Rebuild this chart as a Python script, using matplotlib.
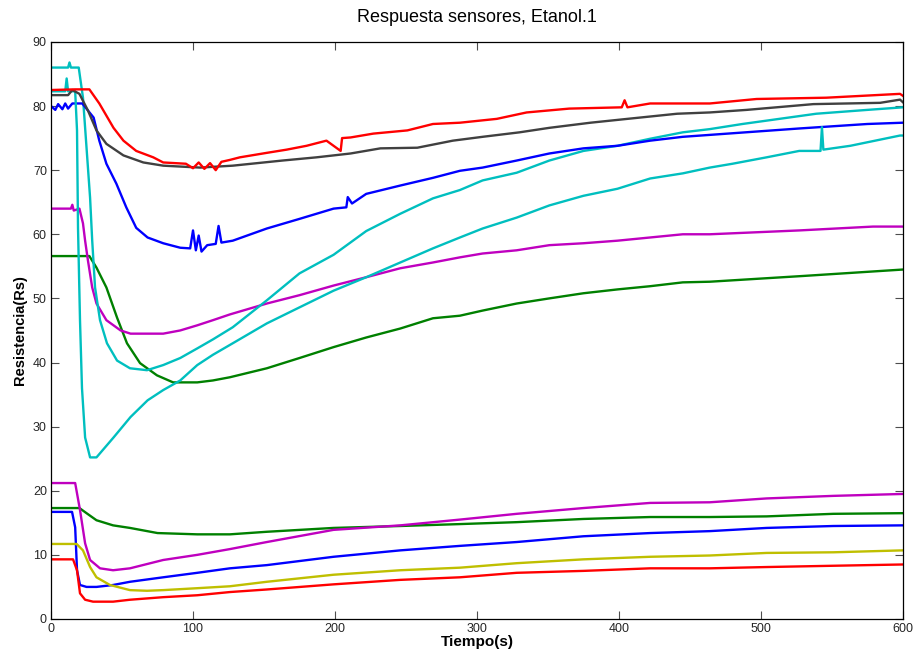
import matplotlib.pyplot as plt

# ---- data (time in s, resistance in Rs) ----
red_hi_t = [0, 17, 27, 34, 44, 51, 60, 72, 79, 95, 100, 104, 108, 112, 116, 120, 126, 133, 152, 166, 180, 194, 204, 205, 211, 227, 251, 269, 288, 314, 335, 365, 402, 404, 406, 422, 464, 497, 546, 598, 600]
red_hi_v = [82.5, 82.6, 82.6, 80.4, 76.6, 74.6, 73.0, 72.0, 71.2, 71.0, 70.3, 71.2, 70.2, 71.1, 70.0, 71.3, 71.6, 72.0, 72.7, 73.2, 73.8, 74.6, 73.0, 75.0, 75.1, 75.7, 76.2, 77.2, 77.4, 78.0, 79.0, 79.6, 79.8, 80.9, 79.8, 80.4, 80.4, 81.1, 81.3, 81.9, 81.6]

gray_t = [0, 12, 15, 20, 26, 32, 39, 51, 65, 79, 105, 128, 163, 187, 211, 232, 258, 283, 304, 330, 351, 380, 406, 441, 464, 490, 537, 584, 598, 600]
gray_v = [81.7, 81.7, 82.5, 81.9, 79.3, 76.2, 74.1, 72.3, 71.2, 70.7, 70.4, 70.7, 71.5, 72.0, 72.6, 73.4, 73.5, 74.6, 75.2, 75.9, 76.6, 77.4, 78.0, 78.8, 79.0, 79.4, 80.3, 80.5, 81.0, 80.6]

blue_hi_t = [0, 3, 5, 8, 10, 12, 15, 22, 30, 34, 39, 46, 53, 60, 68, 79, 91, 98, 100, 102, 104, 106, 110, 116, 118, 120, 128, 152, 175, 199, 208, 209, 212, 222, 246, 269, 288, 304, 328, 351, 375, 399, 422, 445, 464, 527, 575, 600]
blue_hi_v = [80.0, 79.4, 80.3, 79.5, 80.4, 79.6, 80.4, 80.4, 78.2, 74.6, 71.0, 67.9, 64.2, 61.0, 59.5, 58.6, 57.9, 57.8, 60.6, 57.5, 59.8, 57.3, 58.3, 58.5, 61.3, 58.7, 59.0, 60.9, 62.4, 64.0, 64.2, 65.8, 64.8, 66.3, 67.6, 68.8, 69.9, 70.4, 71.5, 72.6, 73.4, 73.8, 74.6, 75.2, 75.5, 76.5, 77.2, 77.4]

cyan_a_t = [0, 10, 11, 12, 17, 18.3, 19, 20.4, 21.8, 24, 27.5, 32, 44, 56, 68, 79, 91, 103, 114, 128, 152, 175, 199, 222, 246, 269, 288, 304, 328, 351, 375, 399, 422, 445, 464, 480, 504, 527, 542, 543, 544, 563, 598, 600]
cyan_a_v = [82.3, 82.3, 84.3, 82.3, 82.3, 76.2, 61.0, 46.6, 36.0, 28.3, 25.2, 25.2, 28.3, 31.5, 34.1, 35.7, 37.2, 39.6, 41.2, 43.0, 46.1, 48.6, 51.2, 53.3, 55.6, 57.8, 59.5, 60.9, 62.6, 64.5, 66.0, 67.1, 68.7, 69.5, 70.4, 71.0, 72.0, 73.0, 73.0, 76.7, 73.2, 73.8, 75.4, 75.4]

cyan_b_t = [0, 12, 13, 14, 19.5, 22.5, 25, 27.5, 29, 31, 34.5, 39.4, 46.5, 55.6, 67.6, 79, 91, 103, 114, 128, 152, 175, 199, 222, 246, 269, 288, 304, 328, 351, 375, 399, 422, 445, 464, 487, 513, 539, 575, 600]
cyan_b_v = [86.0, 86.0, 86.8, 86.0, 86.0, 81.3, 73.5, 65.7, 59.0, 51.7, 46.6, 43.0, 40.3, 39.1, 38.8, 39.6, 40.7, 42.2, 43.6, 45.5, 49.7, 53.9, 56.8, 60.5, 63.2, 65.6, 66.9, 68.4, 69.6, 71.5, 73.0, 73.8, 74.9, 75.9, 76.4, 77.2, 78.0, 78.8, 79.4, 79.8]

mag_hi_t = [0, 14, 15, 16, 20, 22.5, 24, 26, 29, 32, 39, 49, 56, 79, 91, 103, 114, 126, 152, 175, 199, 222, 246, 269, 288, 304, 328, 351, 375, 399, 422, 445, 464, 527, 579, 600]
mag_hi_v = [64.0, 64.0, 64.6, 63.7, 64.0, 61.7, 59.0, 55.9, 51.7, 49.2, 46.6, 45.0, 44.5, 44.5, 45.0, 45.8, 46.6, 47.5, 49.2, 50.5, 52.0, 53.3, 54.7, 55.6, 56.4, 57.0, 57.5, 58.3, 58.6, 59.0, 59.5, 60.0, 60.0, 60.6, 61.2, 61.2]

green_hi_t = [0, 27, 32, 39, 46.5, 53.5, 62.7, 74.6, 86, 103, 114, 126, 152, 175, 199, 222, 246, 269, 288, 304, 328, 351, 375, 399, 422, 445, 464, 530, 600]
green_hi_v = [56.6, 56.6, 54.8, 51.7, 47.0, 43.0, 39.9, 38.0, 36.9, 36.9, 37.2, 37.7, 39.1, 40.7, 42.4, 43.9, 45.3, 46.9, 47.3, 48.1, 49.2, 50.0, 50.8, 51.4, 51.9, 52.5, 52.6, 53.5, 54.5]

mag_lo_t = [0, 17, 20.4, 24, 27.5, 34.5, 43.7, 55.6, 79, 103, 126, 152, 199, 246, 288, 328, 375, 422, 464, 504, 551, 600]
mag_lo_v = [21.2, 21.2, 17.0, 11.8, 9.2, 7.9, 7.6, 7.9, 9.2, 10.0, 10.9, 12.0, 13.9, 14.6, 15.5, 16.4, 17.3, 18.1, 18.2, 18.8, 19.2, 19.5]

green_lo_t = [0, 20, 25, 32, 43.7, 55.6, 75, 103, 126, 152, 199, 246, 288, 328, 375, 422, 464, 504, 551, 600]
green_lo_v = [17.3, 17.3, 16.5, 15.4, 14.6, 14.2, 13.4, 13.2, 13.2, 13.6, 14.2, 14.5, 14.8, 15.1, 15.6, 15.9, 15.9, 16.0, 16.4, 16.5]

blue_lo_t = [0, 14.8, 17, 18.3, 20.4, 25, 32, 43.7, 55.6, 79, 103, 126, 152, 199, 246, 288, 328, 375, 422, 464, 504, 551, 600]
blue_lo_v = [16.7, 16.7, 14.3, 7.6, 5.3, 5.0, 5.0, 5.3, 5.8, 6.5, 7.2, 7.9, 8.4, 9.7, 10.7, 11.4, 12.0, 12.9, 13.4, 13.7, 14.2, 14.5, 14.6]

yel_t = [0, 18, 22.5, 27.5, 32, 41.5, 55.6, 67.6, 79, 103, 126, 152, 199, 246, 288, 328, 375, 422, 464, 504, 551, 600]
yel_v = [11.7, 11.7, 10.7, 8.1, 6.5, 5.3, 4.5, 4.4, 4.5, 4.8, 5.1, 5.8, 6.9, 7.6, 8.0, 8.7, 9.3, 9.7, 9.9, 10.3, 10.4, 10.7]

red_lo_t = [0, 15.5, 18.3, 20.4, 24, 29.6, 43.7, 55.6, 79, 103, 126, 152, 199, 246, 288, 328, 375, 422, 464, 504, 551, 600]
red_lo_v = [9.3, 9.3, 7.6, 4.0, 3.0, 2.7, 2.7, 3.0, 3.4, 3.7, 4.2, 4.6, 5.4, 6.1, 6.5, 7.2, 7.5, 7.9, 7.9, 8.1, 8.3, 8.5]

series = [
    (green_hi_t, green_hi_v, (0, 0.5, 0)),
    (mag_hi_t, mag_hi_v, (0.75, 0, 0.75)),
    (cyan_b_t, cyan_b_v, (0, 0.75, 0.75)),
    (blue_hi_t, blue_hi_v, (0, 0, 1)),
    (cyan_a_t, cyan_a_v, (0, 0.75, 0.75)),
    (gray_t, gray_v, (0.25, 0.25, 0.25)),
    (red_hi_t, red_hi_v, (1, 0, 0)),
    (green_lo_t, green_lo_v, (0, 0.5, 0)),
    (mag_lo_t, mag_lo_v, (0.75, 0, 0.75)),
    (blue_lo_t, blue_lo_v, (0, 0, 1)),
    (yel_t, yel_v, (0.75, 0.75, 0)),
    (red_lo_t, red_lo_v, (1, 0, 0)),
]

plt.rcParams['font.family'] = ['Liberation Sans', 'DejaVu Sans']

fig = plt.figure(figsize=(9.13, 6.55), dpi=100)
ax = fig.add_axes([0.0559, 0.055, 0.933, 0.881])

for t, v, c in series:
    ax.plot(t, v, color=c, lw=1.7)

ax.set_xlim(0, 600)
ax.set_ylim(0, 90)
ax.set_xticks(range(0, 601, 100))
ax.set_yticks(range(0, 91, 10))
ax.tick_params(direction='in', length=6, width=0.8, top=True, right=True,
               labelsize=9, color='0.3', labelcolor='0.15', pad=3)
for s in ax.spines.values():
    s.set_linewidth(0.9)

ax.set_title('Respuesta sensores, Etanol.1', fontsize=13, pad=14)
ax.set_xlabel('Tiempo(s)', fontsize=11, fontweight='bold', labelpad=0)
ax.set_ylabel('Resistencia(Rs)', fontsize=10.5, fontweight='bold', labelpad=4)

fig.savefig('out.png', dpi=100)
